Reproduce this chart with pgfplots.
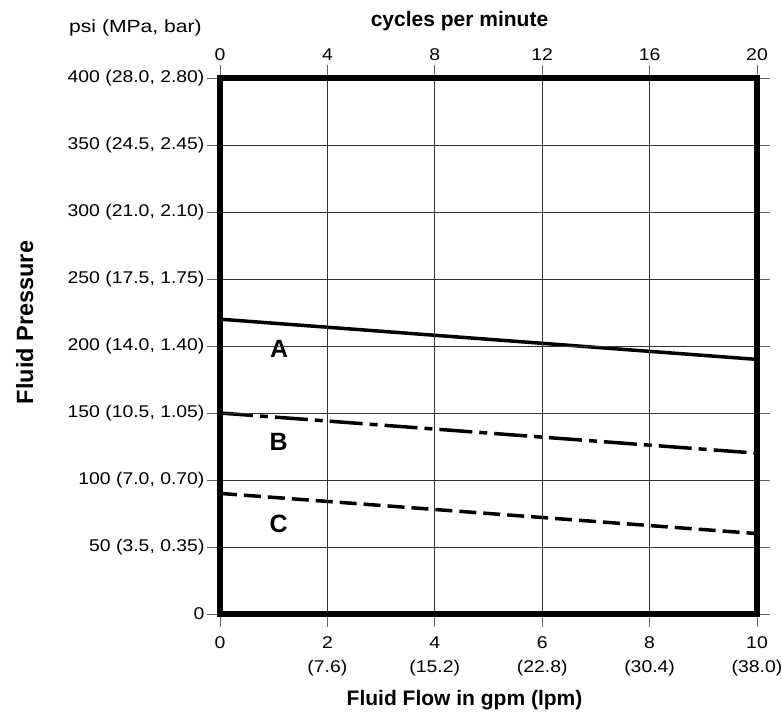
\documentclass[border=0pt]{standalone}
\usepackage{fontspec}
\setmainfont{Liberation Sans}
\newfontfamily\tickfont[FakeStretch=1.14]{Liberation Sans}
\newfontfamily\psifont[FakeStretch=1.2]{Liberation Sans}
\usepackage{pgfplots}
\pgfplotsset{compat=1.18}

\pgfplotsset{
  chartbox/.style={
    at={(220bp,103bp)}, anchor=south west,
    scale only axis, width=537bp, height=536bp,
    tick align=outside,
    major tick length=13bp,
    tick style={black!60, line width=0.8bp},
    ticklabel style={font=\tickfont\fontsize{17bp}{24bp}\selectfont},
  },
}

\begin{document}
\begin{tikzpicture}
\useasboundingbox (0bp,0bp) rectangle (782bp,717bp);

% main axis: gpm (lpm) against psi
\begin{axis}[
  chartbox,
  xmin=0, xmax=10, ymin=0, ymax=400,
  xtick={0,2,4,6,8,10},
  xticklabels={0, 2\\(7.6), 4\\(15.2), 6\\(22.8), 8\\(30.4), 10\\(38.0)},
  xticklabel style={align=center, yshift=-6bp},
  ytick={0,50,100,150,200,250,300,350,400},
  yticklabels={0, {50 (3.5, 0.35)}, {100 (7.0, 0.70)}, {150 (10.5, 1.05)},
    {200 (14.0, 1.40)}, {250 (17.5, 1.75)}, {300 (21.0, 2.10)},
    {350 (24.5, 2.45)}, {400 (28.0, 2.80)}},
  yticklabel style={xshift=1bp},
  axis x line*=bottom,
  grid=major,
  major grid style={black!80, line width=0.9bp},
  axis line style={line width=6bp, line cap=rect},
  axis on top,
  clip=false,
]
\addplot[black, line width=3.5bp] coordinates {(0,220) (10,190)};
\addplot[black, line width=3.5bp, dash pattern=on 33bp off 7bp on 8bp off 7bp]
  coordinates {(0,150) (10,120)};
\addplot[black, line width=3.5bp, dash pattern=on 17bp off 7bp]
  coordinates {(0,90) (10,60)};

\node[font=\bfseries\fontsize{25bp}{25bp}\selectfont] at (axis cs:1.10,197.6) {A};
\node[font=\bfseries\fontsize{25bp}{25bp}\selectfont] at (axis cs:1.09,128.6) {B};
\node[font=\bfseries\fontsize{25bp}{25bp}\selectfont] at (axis cs:1.09,67) {C};

\draw[line width=6bp, line cap=rect] (axis cs:0,400) -- (axis cs:10,400) -- (axis cs:10,0);
\end{axis}

% top axis: cycles per minute
\begin{axis}[
  chartbox,
  xmin=0, xmax=20, ymin=0, ymax=400,
  xtick={0,4,8,12,16,20},
  xticklabels={0,4,8,12,16,20},
  xticklabel style={yshift=1bp},
  axis x line*=top,
  hide y axis,
  axis line style={line width=6bp, line cap=rect},
]
\end{axis}

\node[anchor=base east, inner sep=0pt, font=\psifont\fontsize{17.6bp}{20bp}\selectfont]
  at (202bp,684.7bp) {psi (MPa, bar)};
\node[anchor=base, inner sep=0pt, font=\bfseries\fontsize{21bp}{24bp}\selectfont]
  at (459.5bp,690.3bp) {cycles per minute};
\node[anchor=base, inner sep=0pt, font=\bfseries\fontsize{21bp}{24bp}\selectfont]
  at (464.5bp,12bp) {Fluid Flow in gpm (lpm)};
\node[anchor=base, inner sep=0pt, rotate=90, font=\bfseries\fontsize{23.5bp}{26bp}\selectfont]
  at (33bp,394.5bp) {Fluid Pressure};
\end{tikzpicture}
\end{document}
